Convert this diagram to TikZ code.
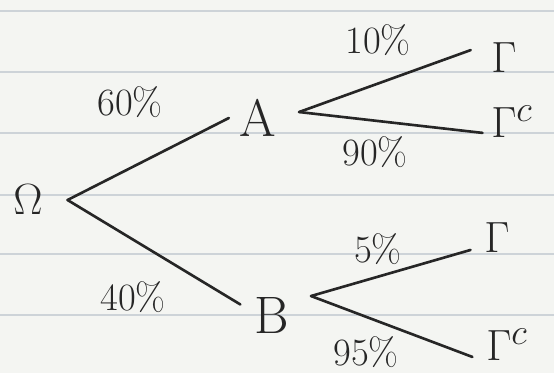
\documentclass[tikz,border=0pt]{standalone}
\usepackage{fontspec}
\definecolor{paper}{HTML}{F4F5F2}
\definecolor{ruling}{HTML}{CDD3D8}
\definecolor{ink}{HTML}{262626}
\begin{document}
\begin{tikzpicture}[x=0.02cm,y=-0.02cm,
    branch/.style={draw=ink,line width=1.5pt,line cap=round},
    event/.style={text=ink,font=\fontsize{30}{30}\selectfont,inner sep=0pt},
    prob/.style={text=ink,font=\fontsize{22}{22}\selectfont,inner sep=0pt},
    ruled/.style={draw=ruling,line width=0.6pt}]
  \fill[paper] (0,0) rectangle (554,373);
  \useasboundingbox (0,0) rectangle (554,373);
  % ruled paper
  \foreach \y in {11,72,133,195,254,315}
    \draw[ruled] (0,\y) -- (554,\y);
  % first stage
  \node[event] (root) at (28,200) {$\Omega$};
  \node[event] (a) at (258,118) {A};
  \node[event] (b) at (272,315) {B};
  \path (root.east) ++(14pt,0) coordinate (fork);
  \draw[branch] (fork) -- ([xshift=-6pt]a.west);
  \draw[branch] (fork) -- ([xshift=-8pt,yshift=6pt]b.west);
  \node[prob] (pa) at (130,102) {60\%};
  \node[prob] (pb) at (133,297) {40\%};
  % second stage, after A
  \node[event] (ag) at (504,58) {$\Gamma$};
  \node[event] (agc) at (512,122) {$\Gamma^{c}$};
  \draw[branch] ([xshift=12.8pt,yshift=3.4pt]a.east) -- ([xshift=-11.6pt,yshift=4.5pt]ag.west);
  \draw[branch] ([xshift=12.8pt,yshift=3.4pt]a.east) -- ([xshift=-4.8pt,yshift=-6.2pt]agc.west);
  \node[prob] (pag) at (378,40) {10\%};
  \node[prob] (pagc) at (375,152) {90\%};
  % second stage, after B
  \node[event] (bg) at (497,238) {$\Gamma$};
  \node[event] (bgc) at (507,345) {$\Gamma^{c}$};
  \draw[branch] ([xshift=12.2pt,yshift=10.8pt]b.east) -- ([xshift=-7.7pt,yshift=-6.8pt]bg.west);
  \draw[branch] ([xshift=12.2pt,yshift=10.8pt]b.east) -- ([xshift=-7.7pt,yshift=-6.8pt]bgc.west);
  \node[prob] (pbg) at (378,249) {5\%};
  \node[prob] (pbgc) at (366,352) {95\%};
\end{tikzpicture}
\end{document}
